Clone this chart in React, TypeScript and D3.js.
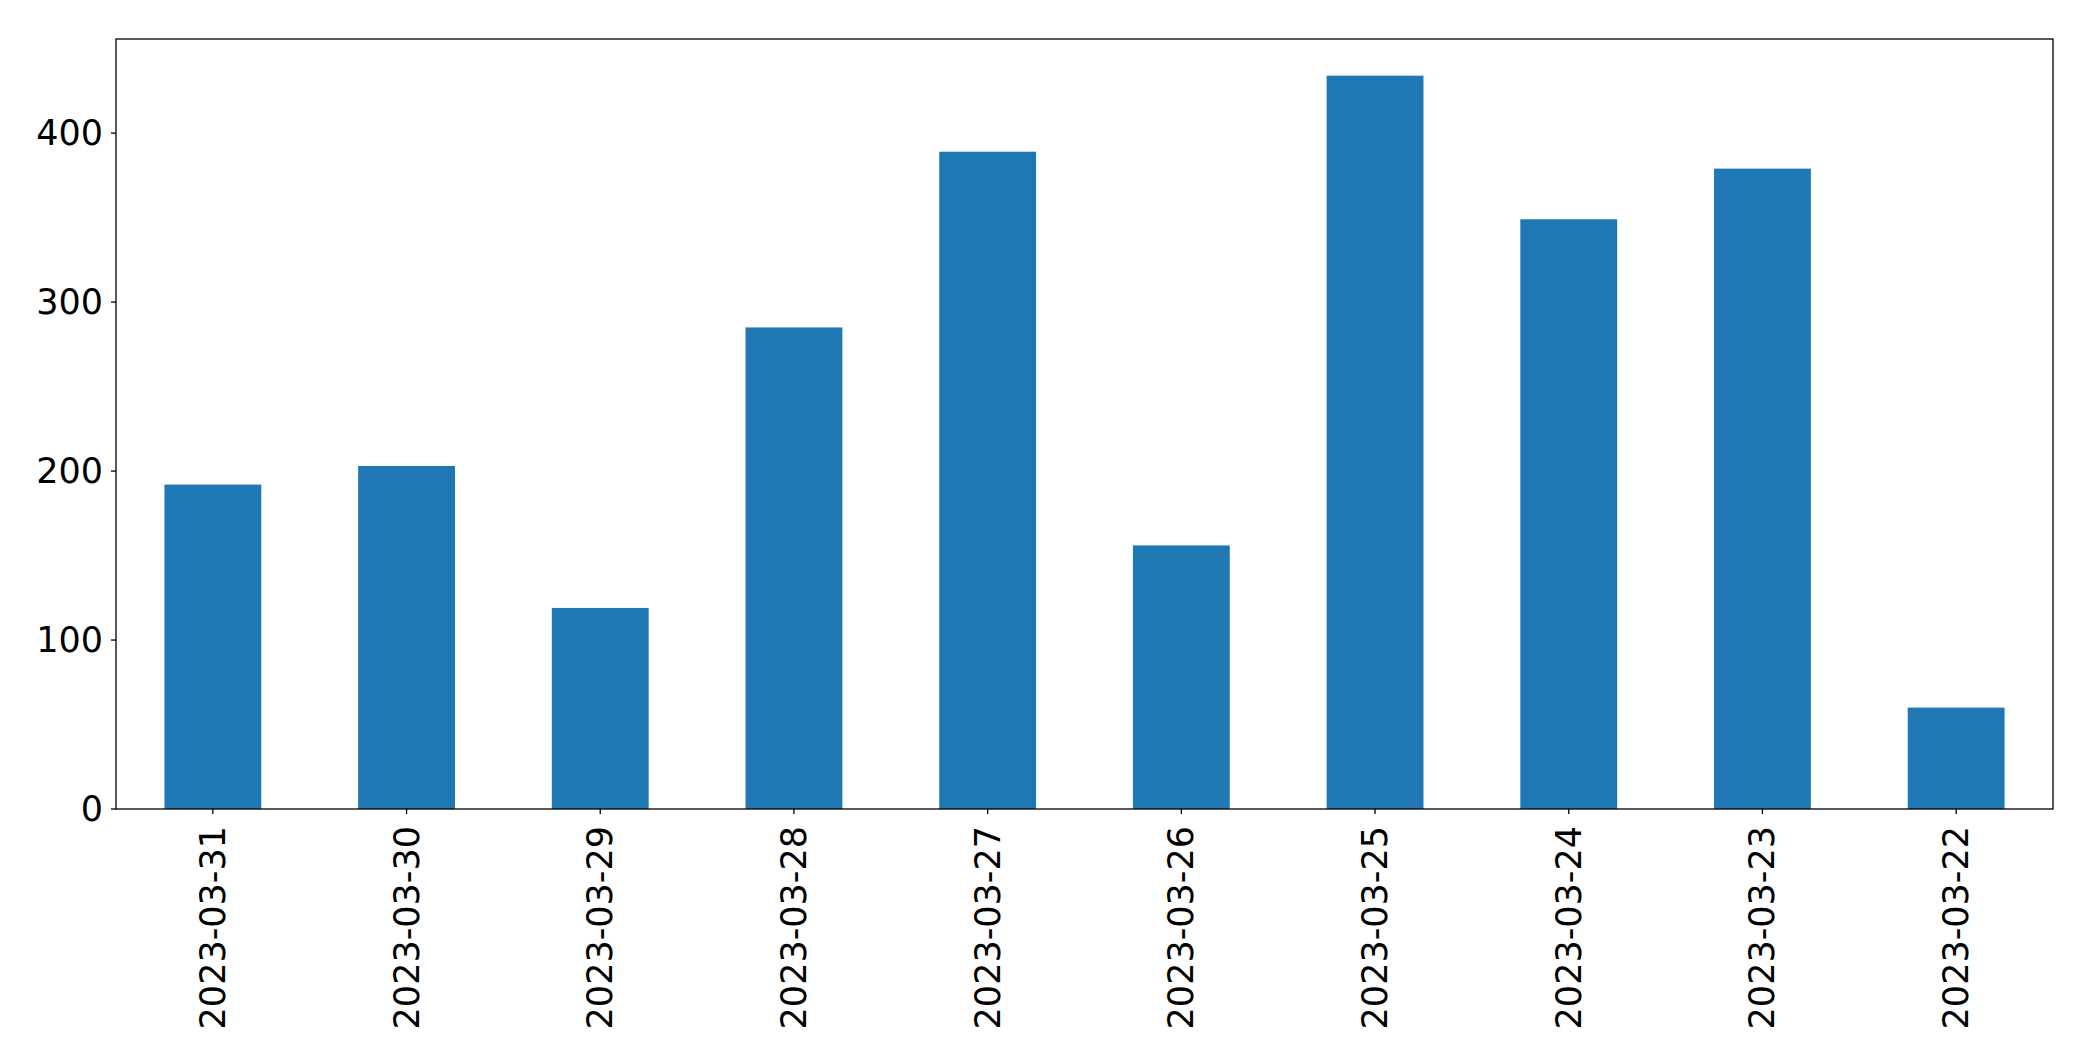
import React from "react";
import * as d3 from "d3";

const categories = [
  "2023-03-31", "2023-03-30", "2023-03-29", "2023-03-28", "2023-03-27",
  "2023-03-26", "2023-03-25", "2023-03-24", "2023-03-23", "2023-03-22",
];
const values = [192, 203, 119, 285, 389, 156, 434, 349, 379, 60];
const yTicks = [0, 100, 200, 300, 400];

const W = 2093;
const H = 1061;
const M = { left: 116, right: 2053, top: 39, bottom: 809 };
const FONT = "'DejaVu Sans', sans-serif";
const BAR = "#1f77b4";

export default function App() {
  const x = d3
    .scaleBand<string>()
    .domain(categories)
    .range([M.left, M.right])
    .paddingInner(0.5)
    .paddingOuter(0.25);
  const yMax = (d3.max(values) as number) * 1.05;
  const y = d3.scaleLinear().domain([0, yMax]).range([M.bottom, M.top]);

  return (
    <svg
      width={W}
      height={H}
      style={{ position: "absolute", left: 0, top: 0, background: "#fff" }}
    >
      {categories.map((c, i) => (
        <rect
          key={c}
          x={x(c)}
          y={y(values[i])}
          width={x.bandwidth()}
          height={y(0) - y(values[i])}
          fill={BAR}
        />
      ))}
      <rect
        x={M.left}
        y={M.top}
        width={M.right - M.left}
        height={M.bottom - M.top}
        fill="none"
        stroke="#000"
        strokeWidth={1.3}
      />
      {yTicks.map((t) => (
        <g key={t}>
          <line
            x1={M.left - 5}
            x2={M.left}
            y1={y(t)}
            y2={y(t)}
            stroke="#000"
            strokeWidth={1.3}
          />
          <text
            x={M.left - 13}
            y={y(t)}
            textAnchor="end"
            dominantBaseline="central"
            fontFamily={FONT}
            fontSize={35}
            fill="#000"
          >
            {t}
          </text>
        </g>
      ))}
      {categories.map((c) => {
        const cx = (x(c) as number) + x.bandwidth() / 2;
        return (
          <g key={c}>
            <line
              x1={cx}
              x2={cx}
              y1={M.bottom}
              y2={M.bottom + 5}
              stroke="#000"
              strokeWidth={1.3}
            />
            <text
              transform={`translate(${cx},${M.bottom + 17}) rotate(-90)`}
              textAnchor="end"
              dominantBaseline="central"
              fontFamily={FONT}
              fontSize={35}
              fill="#000"
            >
              {c}
            </text>
          </g>
        );
      })}
    </svg>
  );
}
